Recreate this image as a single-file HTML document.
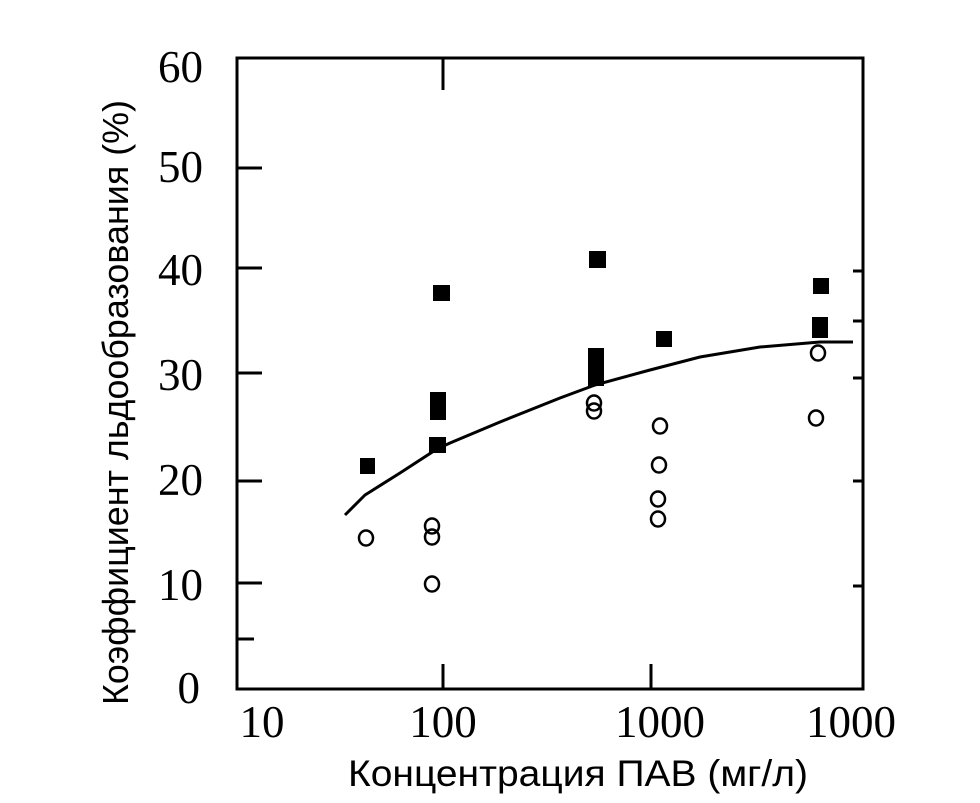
<!DOCTYPE html>
<html><head><meta charset="utf-8"><style>body{margin:0;background:#fff}</style></head><body>
<svg width="980" height="798" xmlns="http://www.w3.org/2000/svg">
<rect width="980" height="798" fill="#fff"/>
<g stroke="#000" stroke-width="3" fill="none">
<rect x="237" y="58" width="626" height="631"/>
<path d="M237 168h25M237 268h25M237 373h25M237 481h25M237 583h25M237 639h17"/>
<path d="M863 271h-10M863 321h-10M863 378h-10M863 481h-10M863 586h-10"/>
<path d="M443 689v-25M651 689v-25M443 58v32"/>
</g>
<g font-family="Liberation Serif, serif" font-size="45" text-anchor="end">
<text x="203" y="82">60</text>
<text x="203" y="182">50</text>
<text x="203" y="285">40</text>
<text x="203" y="390">30</text>
<text x="203" y="495">20</text>
<text x="203" y="600">10</text>
<text x="200" y="703">0</text>
</g>
<g font-family="Liberation Serif, serif" font-size="45" text-anchor="middle">
<text x="262" y="737">10</text>
<text x="443" y="737">100</text>
<text x="660" y="737">1000</text>
<text x="851" y="737">1000</text>
</g>
<text x="348" y="786" font-family="Liberation Sans, sans-serif" font-size="37" textLength="460" lengthAdjust="spacingAndGlyphs">Концентрация ПАВ (мг/л)</text>
<text transform="translate(128,705) rotate(-90)" font-family="Liberation Sans, sans-serif" font-size="36" textLength="605" lengthAdjust="spacingAndGlyphs">Коэффициент льдообразования (%)</text>
<path d="M345 515 L365 495 L400 473 L437 449 L450 443 L500 422 L560 398 L595 385 L650 370 L700 357 L760 347 L820 342 L853 342" stroke="#000" stroke-width="3" fill="none"/>
<g fill="#000">
<rect x="360" y="458" width="15" height="16"/><rect x="433" y="285" width="17" height="16"/>
<rect x="430" y="392" width="16" height="28"/><rect x="429" y="437" width="17" height="16"/>
<rect x="589" y="251" width="17" height="17"/><rect x="588" y="348" width="16" height="38"/>
<rect x="656" y="331" width="16" height="16"/><rect x="813" y="278" width="16" height="16"/>
<rect x="812" y="317" width="16" height="21"/>
</g>
<g fill="none" stroke="#000" stroke-width="2.5">
<ellipse cx="366" cy="538" rx="7" ry="7.5"/><ellipse cx="432" cy="526" rx="7" ry="7.5"/>
<ellipse cx="432" cy="537" rx="7" ry="7.5"/><ellipse cx="432" cy="584" rx="7" ry="7.5"/>
<ellipse cx="594" cy="403" rx="7" ry="7.5"/><ellipse cx="594" cy="411" rx="7" ry="7.5"/>
<ellipse cx="660" cy="426" rx="7" ry="7.5"/><ellipse cx="659" cy="465" rx="7" ry="7.5"/>
<ellipse cx="658" cy="499" rx="7" ry="7.5"/><ellipse cx="658" cy="519" rx="7" ry="7.5"/>
<ellipse cx="818" cy="353" rx="7" ry="7.5"/><ellipse cx="816" cy="418" rx="7" ry="7.5"/>
</g>
</svg>
</body></html>
